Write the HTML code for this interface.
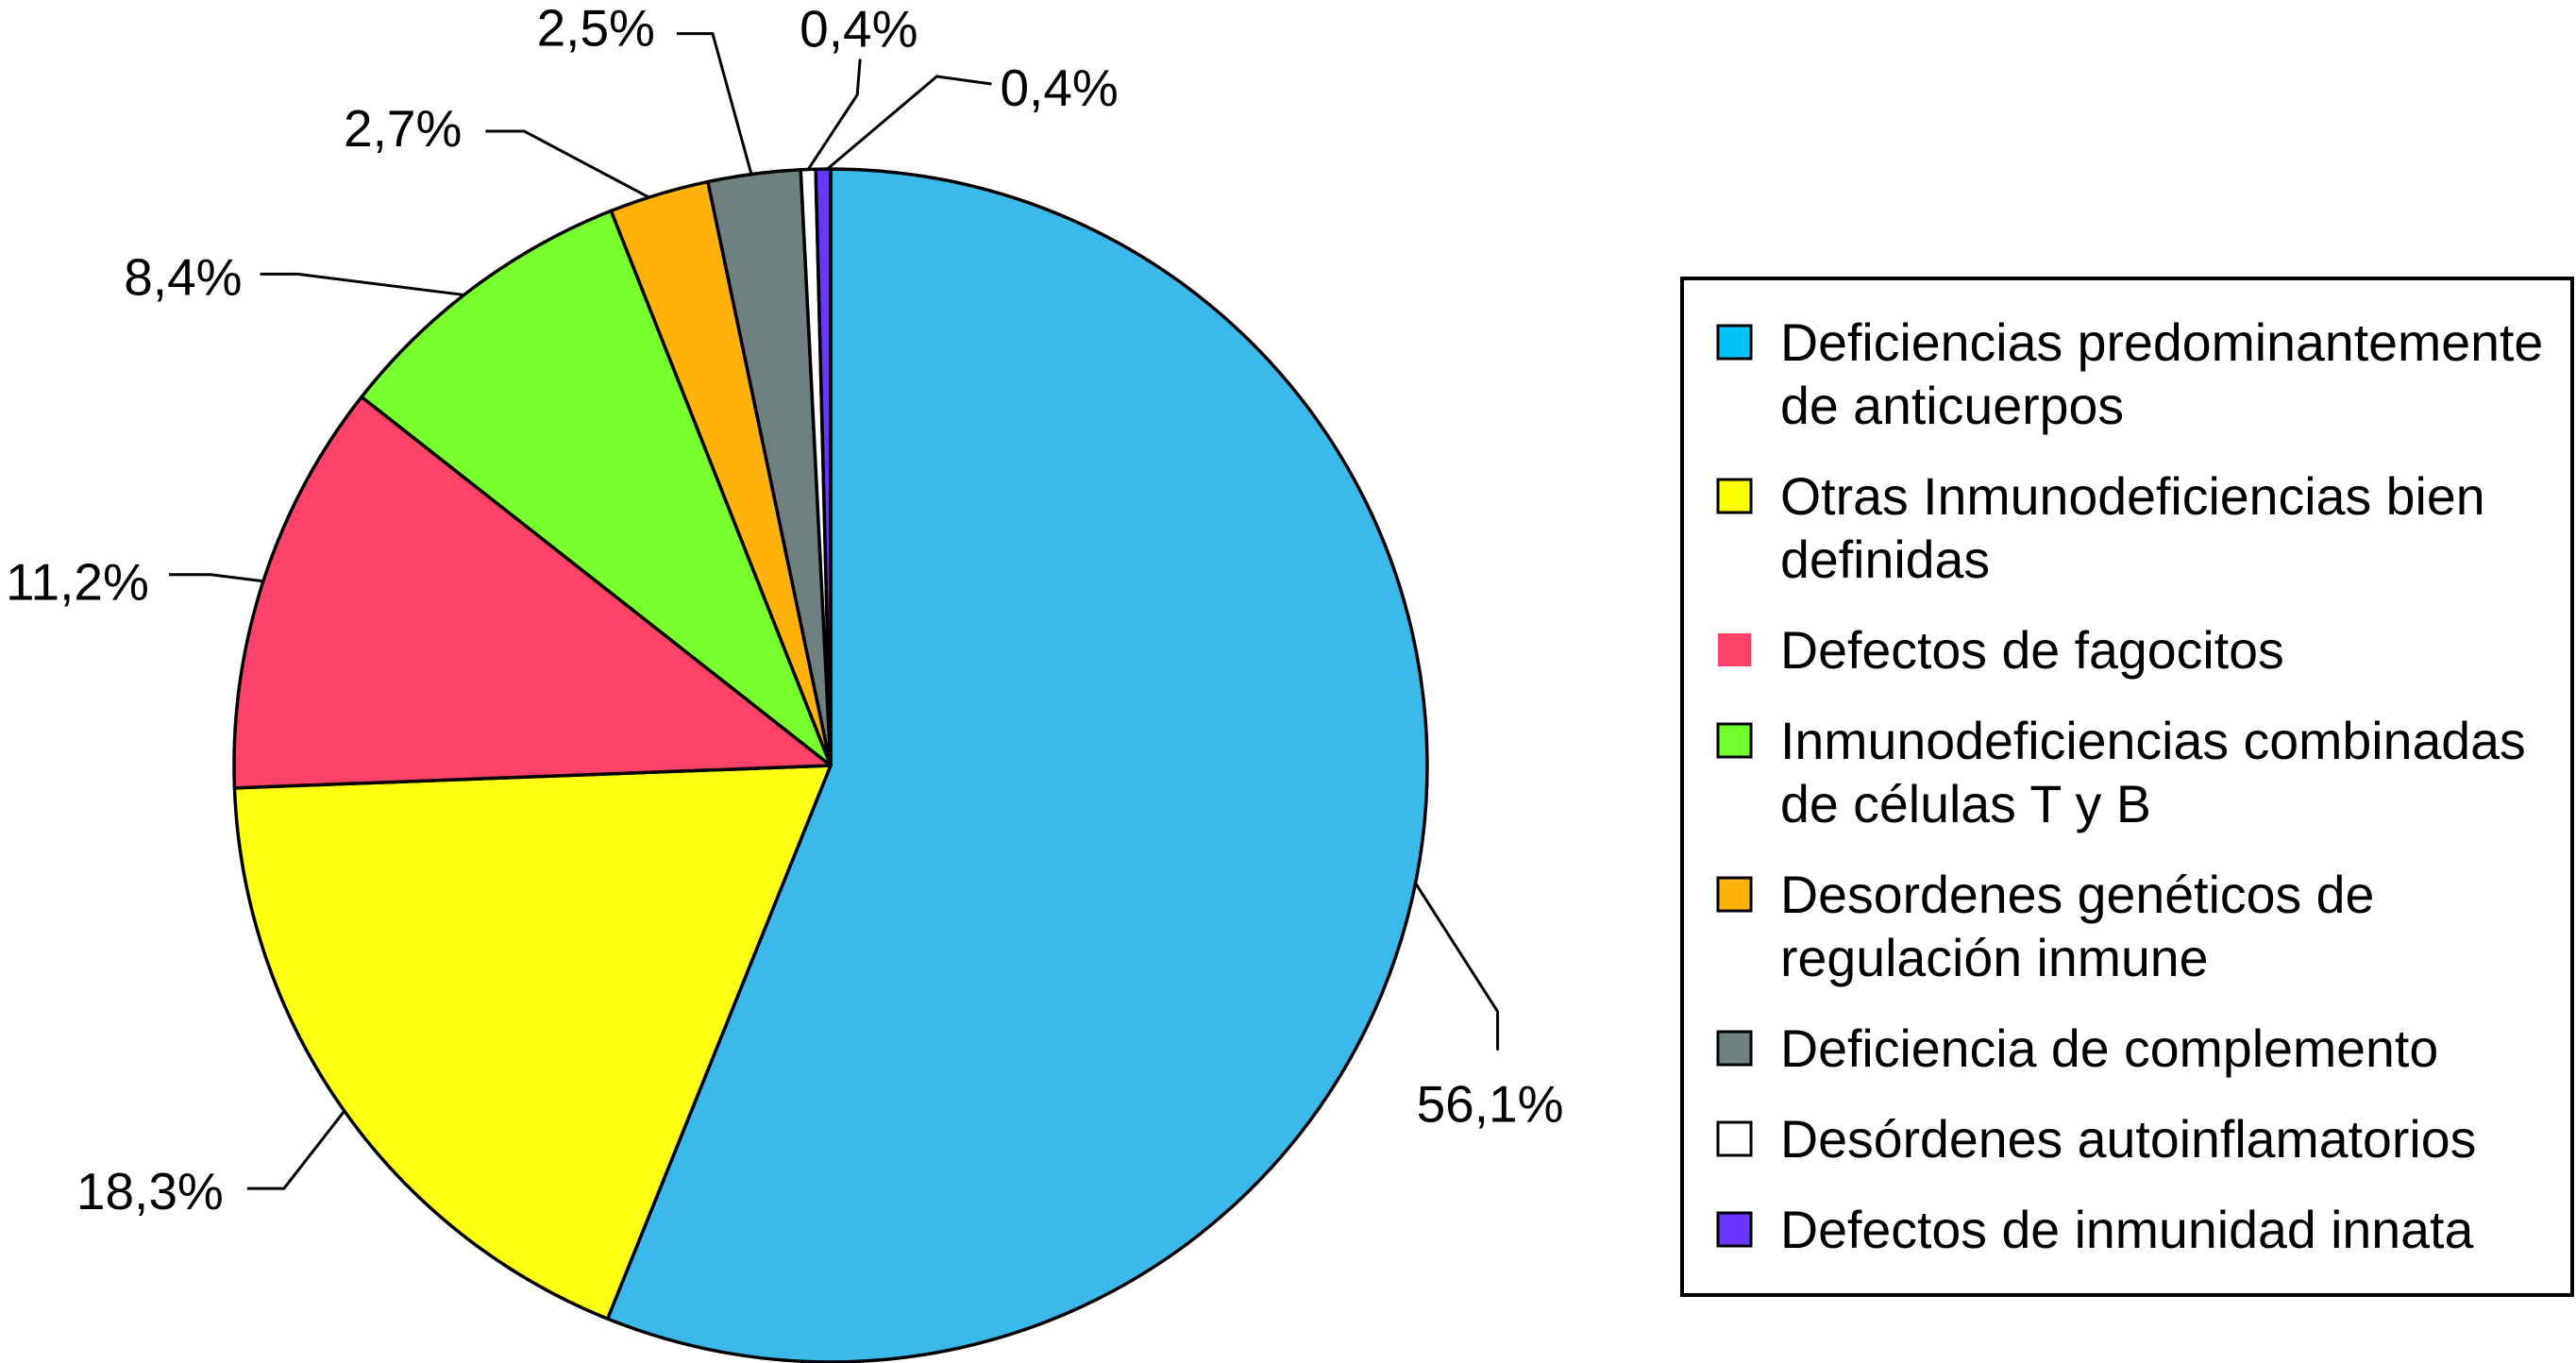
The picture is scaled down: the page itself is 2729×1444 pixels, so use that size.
<!DOCTYPE html>
<html lang="es">
<head>
<meta charset="utf-8">
<title>Distribución de inmunodeficiencias primarias</title>
<style>
  html, body { margin: 0; padding: 0; background: #fff; }
  svg { display: block; }
  text { font-family: "Liberation Sans", Arial, sans-serif; fill: #000; }
</style>
</head>
<body>
<svg id="chart" xmlns="http://www.w3.org/2000/svg" width="2729" height="1444" viewBox="0 0 2729 1444">
  <rect x="0" y="0" width="2729" height="1444" fill="#ffffff"/>
  <g id="slices"></g>
  <g id="leaders"></g>
  <g id="labels"></g>
  <g id="legend">
    <rect x="1782" y="295" width="943" height="1077" fill="#ffffff" stroke="#000000" stroke-width="4"/>
  </g>
</svg>
<script>
const categories = [
  "Deficiencias predominantemente|de anticuerpos",
  "Otras Inmunodeficiencias bien|definidas",
  "Defectos de fagocitos",
  "Inmunodeficiencias combinadas|de células T y B",
  "Desordenes genéticos de|regulación inmune",
  "Deficiencia de complemento",
  "Desórdenes autoinflamatorios",
  "Defectos de inmunidad innata"
];
const values = [56.1, 18.3, 11.2, 8.4, 2.7, 2.5, 0.4, 0.4];
const sliceColors = ["#3BB9EB", "#FFFF14", "#FF4268", "#78FF2E", "#FFB30A", "#6E8080", "#FFFFFF", "#6A35FF"];
const swatchColors = ["#00C4F8", "#FFFF00", "#FF4268", "#72FF2E", "#FFB30A", "#6E8080", "#FFFFFF", "#6A35FF"];

const NS = "http://www.w3.org/2000/svg";
const CX = 880, CY = 811, R = 632;

function angleOf(share) {
  return share * 3.6;
}
function polar(deg, radius) {
  const a = deg * Math.PI / 180;
  return { x: CX + radius * Math.sin(a), y: CY - radius * Math.cos(a) };
}
function make(tag, attrs, parent) {
  const el = document.createElementNS(NS, tag);
  Object.keys(attrs).forEach(function (k) { el.setAttribute(k, attrs[k]); });
  parent.appendChild(el);
  return el;
}
function formatValue(v) {
  return v.toFixed(1).replace(".", ",") + "%";
}

function drawPie() {
  // Leader offsets are annotation layout relative to the rim anchor of each slice.
  const leaderLayout = [
    { tweak: 0.4, knee: [87, 136], tail: [87, 177], text: [1, 253], anchor: "start" },
    { tweak: -0.3, knee: [-64, 82], tail: [-103, 82], text: [-128, 104], anchor: "end" },
    { tweak: 0, knee: [-56, -7], tail: [-100, -7], text: [-121, 20], anchor: "end" },
    { tweak: -1.2, knee: [-176, -22], tail: [-216, -22], text: [-235, 0], anchor: "end" },
    { tweak: -1, knee: [-132, -70], tail: [-173, -70], text: [-198, -54], anchor: "end" },
    { tweak: -0.26, knee: [-41, -149], tail: [-79, -149], text: [-102, -136], anchor: "end" },
    { tweak: 0, knee: [52, -79], tail: [55, -117], text: [-9, -130], anchor: "start" },
    { tweak: 0.4, knee: [116, -98], tail: [174, -90], text: [183, -67], anchor: "start" }
  ];
  const slicesG = document.getElementById("slices");
  const leadersG = document.getElementById("leaders");
  const labelsG = document.getElementById("labels");
  const total = values.reduce(function (a, b) { return a + b; }, 0);
  let cum = 0;
  values.forEach(function (v, i) {
    const share = v / total * 100;
    const a0 = angleOf(cum), a1 = angleOf(cum + share);
    const p0 = polar(a0, R), p1 = polar(a1, R);
    const large = a1 - a0 > 180 ? 1 : 0;
    const slice = make("path", {
      d: "M" + CX + " " + CY + " L" + p0.x + " " + p0.y + " A" + R + " " + R + " 0 " + large + " 1 " + p1.x + " " + p1.y + " Z",
      fill: sliceColors[i], stroke: "#000000", "stroke-width": 3.5, "stroke-linejoin": "round"
    }, slicesG);
    
    

    const lay = leaderLayout[i];
    const anchor = polar(angleOf(cum + share / 2) + lay.tweak, R);
    const leader = make("polyline", {
      points: [anchor.x, anchor.y, anchor.x + lay.knee[0], anchor.y + lay.knee[1], anchor.x + lay.tail[0], anchor.y + lay.tail[1]].join(" "),
      fill: "none", stroke: "#000000", "stroke-width": 3
    }, leadersG);
    
    

    const label = make("text", {
      x: anchor.x + lay.text[0], y: anchor.y + lay.text[1],
      "font-size": 55, "text-anchor": lay.anchor
    }, labelsG);
    label.textContent = formatValue(v);
    
    
    cum += share;
  });
}

function drawLegend() {
  const g = document.getElementById("legend");
  let baseline = 382;
  categories.forEach(function (cat, i) {
    const lines = cat.split("|");
    const noBorder = i === 2;
    const swatch = make("rect", {
      x: 1820, y: baseline - 37, width: 35, height: 35, fill: swatchColors[i],
      stroke: noBorder ? "none" : "#000000", "stroke-width": 3
    }, g);
    
    
    lines.forEach(function (line, j) {
      const t = make("text", { x: 1886, y: baseline + j * 67, "font-size": 55.5 }, g);
      t.textContent = line;
      
      
    });
    baseline += (lines.length - 1) * 67 + 96;
  });
}

drawPie();
drawLegend();
</script>
</body>
</html>
